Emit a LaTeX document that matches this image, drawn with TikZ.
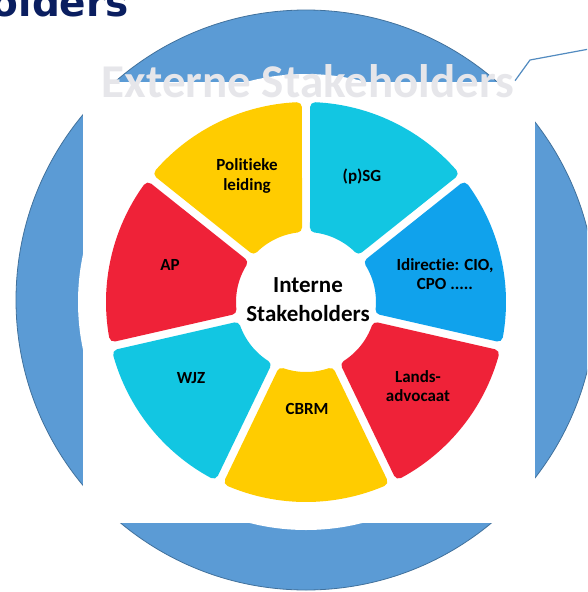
\documentclass[tikz,border=0pt]{standalone}
\usepackage{fontspec}
\setmainfont{Carlito}[Ligatures=NoCommon]
\newfontfamily\titlefont{DejaVu Sans}
\usepackage{xcolor}
\definecolor{outerblue}{HTML}{5B9BD5}
\definecolor{outeredge}{HTML}{41719C}
\definecolor{titlenavy}{HTML}{0A1E60}
\definecolor{extgray}{HTML}{E6E6EA}
\definecolor{ringyellow}{HTML}{FFCC00}
\definecolor{ringcyan}{HTML}{12C6E2}
\definecolor{ringazure}{HTML}{10A2EC}
\definecolor{ringred}{HTML}{EF2238}

\begin{document}
\begin{tikzpicture}[x=1pt,y=-1pt]
	\useasboundingbox (0,0) rectangle (587,592);
	\clip (0,0) rectangle (587,592);
	\fill[white] (0,0) rectangle (587,592);
\par
\filldraw[fill=outerblue,draw=outeredge,line width=0.8pt] (306,300) circle[radius=290];
	\fill[white] (83,82) rectangle (535,523);
	\fill[white] (306,302) circle[radius=228];
\par
\tikzstyle{seg}=[line width=10pt,line join=round]
\tikzstyle{lbl}=[font=\bfseries\fontsize{17}{19.5}\selectfont,align=center,text=black]
\tikzstyle{callout}=[draw=outerblue!90!black,line width=1.2pt]
\par
\begin{scope}[shift={(306,302)},y=1pt]
	\foreach \a/\c in {90/ringyellow,141.43/ringred,192.86/ringcyan,244.29/ringyellow,295.71/ringred,347.14/ringazure,398.57/ringcyan}{
		\pgfmathsetmacro\oa{\a+2.65}
		\pgfmathsetmacro\ob{\a+51.43-2.65}
		\pgfmathsetmacro\ia{\a+6.89}
		\pgfmathsetmacro\ib{\a+51.43-6.89}
		\filldraw[seg,fill=\c,draw=\c] (\oa:195) arc[start angle=\oa,end angle=\ob,radius=195] -- (\ib:75) arc[start angle=\ib,end angle=\ia,radius=75] -- cycle;
	}
\end{scope}
\par
\node[anchor=base east,text=titlenavy,font=\titlefont\bfseries\fontsize{39}{39}\selectfont,inner sep=0pt] (title) at (129,16) {Stakeholders};
	\node[anchor=base,text=extgray,font=\bfseries\fontsize{47}{47}\selectfont,inner sep=1pt,outer sep=0pt] (ext) at (308,97) {Externe Stakeholders};
	\coordinate (knik) at (530,60);
	\coordinate (uit) at (600,47);
	\draw[callout] (ext.east) -- (knik) -- (uit);
\par
\node[font=\bfseries\fontsize{23}{29}\selectfont,align=center] (interne) at (308,300) {Interne\\Stakeholders};
	\node[lbl] (pol) at (247,176) {Politieke\\leiding};
	\node[lbl] (psg) at (362,177) {(p)SG};
	\node[lbl] (idir) at (445,274) {Idirectie: CIO,\\CPO .....};
	\node[lbl] (lands) at (418,386) {Lands-\\advocaat};
	\node[lbl] (cbrm) at (307,409) {CBRM};
	\node[lbl] (wjz) at (191,378) {WJZ};
	\node[lbl] (ap) at (170,265) {AP};
\end{tikzpicture}
\end{document}
